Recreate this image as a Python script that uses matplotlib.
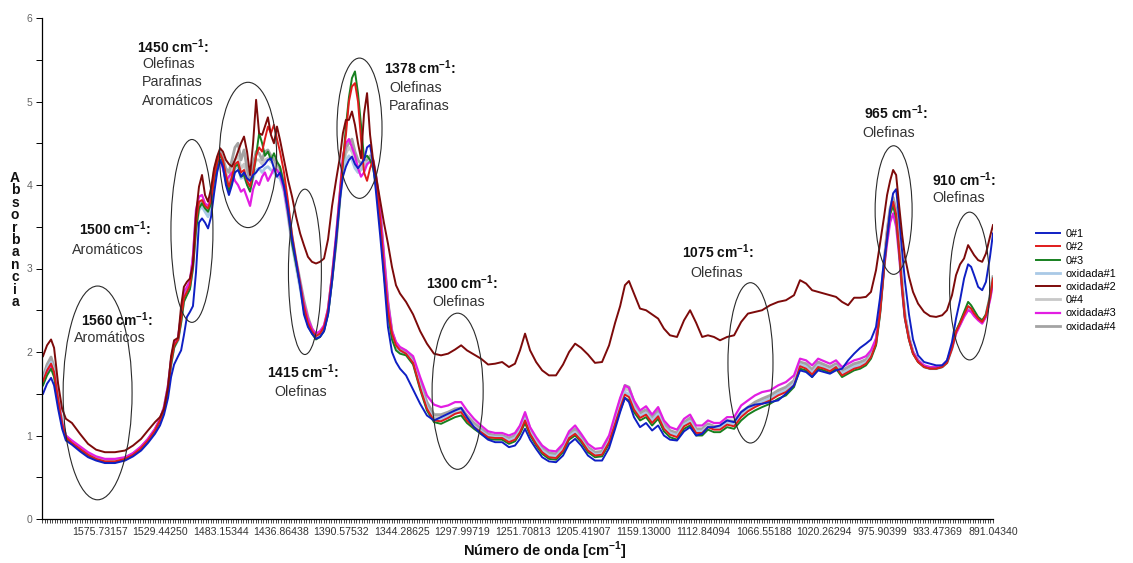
import matplotlib
matplotlib.use("Agg")
import matplotlib.pyplot as plt
from matplotlib.patches import Ellipse
from matplotlib.ticker import MultipleLocator, FixedLocator

plt.rcParams["font.family"] = ["Liberation Sans", "DejaVu Sans"]
plt.rcParams["mathtext.fontset"] = "custom"
plt.rcParams["mathtext.rm"] = "Liberation Sans"
plt.rcParams["mathtext.bf"] = "Liberation Sans:bold"

# spectrum point index (0 = high wavenumber end, ~1620 cm-1)
point_idx = [
    0.4, 2.0, 3.6, 4.8, 6.4, 8.0, 9.5, 11.9, 15.1, 18.3, 21.5, 25.0, 29.0, 33.0, 36.2, 39.4, 42.1, 44.9, 46.9, 48.5, 50.1, 51.3, 52.5, 54.1,
    55.3, 56.4, 57.6, 58.8, 60.0, 61.2, 62.4, 63.6, 64.8, 66.0, 67.2, 68.4, 69.6, 70.8, 71.9, 73.1, 74.3, 75.5, 76.7, 77.9, 79.1, 80.3, 81.5, 82.7, 83.9, 85.1, 86.3, 87.5, 88.6, 89.8, 91.0, 92.2, 93.4, 94.6, 96.2, 97.8, 99.4, 101.0, 102.6,
    104.1, 105.7, 107.3, 108.9, 110.5, 112.1, 113.7, 115.3, 116.9, 118.5, 119.6, 120.8, 122.0, 123.2, 124.4, 125.6, 126.8, 128.0, 129.2, 130.4, 131.6, 132.8, 134.4, 135.9, 137.5, 139.1, 140.7, 142.3,
    144.7, 147.5, 150.3, 153.0, 155.8, 158.6, 161.4, 164.2, 166.6, 168.9, 171.7, 174.5, 177.3, 180.1, 182.9, 185.6, 188.0, 190.0, 192.0, 194.0, 196.4, 198.8, 201.5, 204.3, 207.1, 209.5, 211.9, 214.3, 217.0, 219.8, 222.6, 225.4, 227.8, 229.8, 231.7, 233.3, 235.3, 237.7, 240.1, 242.5, 244.9, 247.2, 249.6, 252.4, 255.2, 257.6, 260.0, 262.4, 264.7, 267.1, 269.5, 272.3, 275.1, 277.9, 280.6, 283.4, 286.2,
    289.4, 292.6, 295.7, 298.9, 301.3, 303.7, 306.1, 308.5, 310.8, 313.2, 315.6, 318.0, 320.4, 322.8, 325.2, 327.5, 329.5, 331.5, 333.1, 334.7, 335.9, 337.1, 338.3, 339.5, 340.7, 341.9, 343.0, 344.6, 346.2, 348.2, 350.6, 353.0, 355.4, 357.8, 359.7, 361.7, 363.3, 364.9, 366.5, 368.1, 369.3, 370.5, 372.1, 373.7, 375.2, 376.8, 378.0,
]

s0_1 = [
    1.50, 1.62, 1.69, 1.60, 1.32, 1.08, 0.94, 0.89, 0.81, 0.74, 0.70, 0.67, 0.67, 0.70, 0.75, 0.82, 0.91, 1.02, 1.12, 1.25, 1.45, 1.70, 1.85, 1.95,
    2.02, 2.20, 2.42, 2.48, 2.55, 2.95, 3.55, 3.60, 3.55, 3.48, 3.62, 3.90, 4.15, 4.30, 4.22, 4.00, 3.88, 4.00, 4.15, 4.18, 4.10, 4.15, 4.08, 4.05, 4.12, 4.15, 4.20, 4.22, 4.25, 4.30, 4.32, 4.20, 4.10, 4.15, 3.98, 3.70, 3.35, 3.08, 2.78,
    2.45, 2.30, 2.22, 2.16, 2.18, 2.25, 2.45, 2.85, 3.35, 3.85, 4.10, 4.22, 4.30, 4.34, 4.25, 4.20, 4.25, 4.30, 4.45, 4.48, 4.25, 3.90, 3.40, 2.90, 2.30, 2.00, 1.88, 1.80,
    1.72, 1.55, 1.38, 1.24, 1.18, 1.22, 1.26, 1.30, 1.33, 1.22, 1.10, 1.02, 0.95, 0.92, 0.92, 0.86, 0.88, 0.96, 1.08, 0.95, 0.84, 0.74, 0.69, 0.68, 0.76, 0.90, 0.96, 0.88, 0.76, 0.70, 0.70, 0.85, 1.08, 1.28, 1.45, 1.40, 1.22, 1.10, 1.15, 1.06, 1.12, 1.00, 0.95, 0.94, 1.05, 1.10, 1.00, 1.02, 1.10, 1.10, 1.12, 1.18, 1.16, 1.28, 1.34, 1.37, 1.38,
    1.40, 1.42, 1.50, 1.60, 1.78, 1.76, 1.70, 1.78, 1.76, 1.74, 1.78, 1.80, 1.90, 1.98, 2.05, 2.10, 2.15, 2.30, 2.65, 3.10, 3.35, 3.70, 3.90, 3.95, 3.60, 3.20, 2.85, 2.45, 2.15, 1.96, 1.88, 1.86, 1.84, 1.84, 1.90, 2.12, 2.40, 2.62, 2.88, 3.05, 3.02, 2.92, 2.78, 2.74, 2.84, 3.14, 3.42,
]

s0_2 = [
    1.65, 1.78, 1.86, 1.76, 1.43, 1.14, 0.98, 0.91, 0.84, 0.77, 0.72, 0.69, 0.69, 0.72, 0.77, 0.85, 0.94, 1.06, 1.18, 1.32, 1.57, 1.88, 2.08, 2.15,
    2.40, 2.65, 2.72, 2.80, 3.05, 3.55, 3.80, 3.82, 3.75, 3.72, 3.82, 4.10, 4.28, 4.38, 4.30, 4.12, 3.98, 4.10, 4.25, 4.28, 4.15, 4.18, 4.05, 3.98, 4.15, 4.35, 4.45, 4.40, 4.55, 4.70, 4.62, 4.72, 4.55, 4.40, 4.15, 3.80, 3.40, 3.10, 2.82,
    2.55, 2.35, 2.25, 2.19, 2.22, 2.30, 2.50, 2.90, 3.35, 3.90, 4.30, 4.60, 5.00, 5.18, 5.22, 5.00, 4.55, 4.15, 4.05, 4.20, 4.30, 4.05, 3.60, 3.00, 2.50, 2.22, 2.08, 2.02,
    1.98, 1.87, 1.57, 1.32, 1.18, 1.17, 1.21, 1.26, 1.28, 1.18, 1.10, 1.04, 0.98, 0.97, 0.97, 0.92, 0.95, 1.04, 1.18, 1.02, 0.90, 0.80, 0.74, 0.73, 0.82, 0.97, 1.02, 0.94, 0.82, 0.76, 0.77, 0.92, 1.14, 1.33, 1.49, 1.46, 1.31, 1.21, 1.25, 1.15, 1.23, 1.08, 1.01, 0.98, 1.11, 1.15, 1.03, 1.03, 1.10, 1.07, 1.07, 1.13, 1.11, 1.22, 1.29, 1.34, 1.38,
    1.42, 1.48, 1.52, 1.60, 1.83, 1.80, 1.73, 1.82, 1.80, 1.77, 1.82, 1.72, 1.76, 1.80, 1.82, 1.86, 1.94, 2.10, 2.47, 3.02, 3.40, 3.68, 3.80, 3.65, 3.22, 2.77, 2.41, 2.15, 1.98, 1.88, 1.82, 1.80, 1.80, 1.82, 1.87, 2.04, 2.24, 2.34, 2.45, 2.55, 2.52, 2.46, 2.40, 2.36, 2.44, 2.65, 2.88,
]

s0_3 = [
    1.60, 1.72, 1.80, 1.70, 1.40, 1.12, 0.97, 0.90, 0.83, 0.76, 0.71, 0.68, 0.68, 0.71, 0.76, 0.84, 0.93, 1.05, 1.17, 1.30, 1.55, 1.85, 2.05, 2.15,
    2.35, 2.60, 2.68, 2.75, 3.00, 3.45, 3.72, 3.78, 3.72, 3.68, 3.78, 4.05, 4.25, 4.36, 4.28, 4.08, 3.92, 4.05, 4.22, 4.25, 4.10, 4.12, 4.00, 3.92, 4.10, 4.35, 4.62, 4.50, 4.35, 4.40, 4.30, 4.38, 4.28, 4.22, 4.00, 3.68, 3.30, 3.05, 2.80,
    2.50, 2.32, 2.22, 2.15, 2.18, 2.25, 2.45, 2.85, 3.30, 3.85, 4.25, 4.70, 5.05, 5.28, 5.36, 5.10, 4.72, 4.32, 4.35, 4.30, 4.20, 4.00, 3.55, 2.95, 2.45, 2.15, 2.02, 1.98,
    1.96, 1.85, 1.55, 1.30, 1.16, 1.14, 1.18, 1.22, 1.24, 1.15, 1.08, 1.02, 0.96, 0.95, 0.95, 0.90, 0.93, 1.02, 1.15, 1.00, 0.88, 0.78, 0.72, 0.71, 0.80, 0.95, 1.00, 0.92, 0.80, 0.74, 0.75, 0.90, 1.12, 1.30, 1.45, 1.42, 1.28, 1.18, 1.22, 1.12, 1.20, 1.05, 0.98, 0.95, 1.08, 1.12, 1.00, 1.00, 1.07, 1.04, 1.04, 1.10, 1.08, 1.18, 1.25, 1.30, 1.34,
    1.38, 1.44, 1.48, 1.58, 1.80, 1.78, 1.70, 1.80, 1.78, 1.75, 1.80, 1.70, 1.74, 1.78, 1.80, 1.84, 1.92, 2.08, 2.45, 3.00, 3.38, 3.65, 3.75, 3.60, 3.20, 2.75, 2.40, 2.15, 1.98, 1.88, 1.82, 1.80, 1.80, 1.82, 1.87, 2.05, 2.25, 2.36, 2.48, 2.60, 2.56, 2.50, 2.42, 2.38, 2.45, 2.66, 2.88,
]

ox_1 = [
    1.66, 1.80, 1.88, 1.77, 1.44, 1.14, 0.98, 0.91, 0.84, 0.77, 0.72, 0.69, 0.69, 0.72, 0.77, 0.85, 0.94, 1.06, 1.18, 1.31, 1.56, 1.86, 2.06, 2.14,
    2.38, 2.62, 2.70, 2.78, 3.02, 3.50, 3.70, 3.74, 3.68, 3.62, 3.72, 4.00, 4.20, 4.32, 4.25, 4.05, 3.95, 4.08, 4.20, 4.22, 4.08, 4.10, 4.02, 3.95, 4.08, 4.18, 4.20, 4.15, 4.20, 4.22, 4.18, 4.15, 4.10, 4.08, 3.92, 3.62, 3.28, 3.02, 2.76,
    2.52, 2.34, 2.24, 2.18, 2.20, 2.28, 2.48, 2.88, 3.30, 3.85, 4.15, 4.30, 4.35, 4.30, 4.20, 4.15, 4.18, 4.22, 4.25, 4.30, 4.25, 4.00, 3.60, 3.05, 2.50, 2.20, 2.06, 2.01,
    1.98, 1.88, 1.59, 1.34, 1.19, 1.19, 1.22, 1.27, 1.28, 1.19, 1.11, 1.05, 0.99, 0.98, 0.98, 0.94, 0.97, 1.06, 1.20, 1.04, 0.92, 0.82, 0.76, 0.75, 0.84, 0.99, 1.04, 0.95, 0.83, 0.77, 0.78, 0.93, 1.16, 1.36, 1.52, 1.49, 1.34, 1.23, 1.27, 1.18, 1.26, 1.10, 1.03, 1.00, 1.13, 1.17, 1.05, 1.05, 1.11, 1.09, 1.09, 1.15, 1.14, 1.24, 1.31, 1.36, 1.40,
    1.44, 1.50, 1.54, 1.62, 1.85, 1.82, 1.75, 1.84, 1.81, 1.78, 1.83, 1.74, 1.78, 1.82, 1.84, 1.87, 1.95, 2.10, 2.48, 3.02, 3.40, 3.66, 3.78, 3.64, 3.22, 2.78, 2.42, 2.16, 1.99, 1.89, 1.82, 1.80, 1.80, 1.82, 1.87, 2.04, 2.23, 2.33, 2.44, 2.54, 2.52, 2.46, 2.40, 2.36, 2.44, 2.65, 2.88,
]

ox_2 = [
    1.95, 2.08, 2.15, 2.05, 1.62, 1.32, 1.20, 1.15, 1.02, 0.90, 0.83, 0.80, 0.80, 0.82, 0.88, 0.96, 1.06, 1.16, 1.22, 1.32, 1.58, 1.95, 2.14, 2.17,
    2.55, 2.78, 2.84, 2.88, 3.05, 3.65, 3.98, 4.12, 3.88, 3.80, 3.96, 4.20, 4.34, 4.44, 4.40, 4.30, 4.25, 4.22, 4.30, 4.40, 4.50, 4.58, 4.40, 4.12, 4.50, 5.02, 4.62, 4.60, 4.70, 4.81, 4.60, 4.50, 4.70, 4.54, 4.30, 4.06, 3.86, 3.62, 3.42,
    3.28, 3.14, 3.08, 3.06, 3.08, 3.12, 3.35, 3.75, 4.06, 4.35, 4.62, 4.78, 4.78, 4.88, 4.72, 4.50, 4.32, 4.85, 5.10, 4.60, 4.30, 4.10, 3.82, 3.55, 3.30, 3.02, 2.80, 2.70,
    2.60, 2.45, 2.25, 2.10, 1.98, 1.96, 1.98, 2.03, 2.08, 2.02, 1.97, 1.92, 1.85, 1.86, 1.88, 1.82, 1.86, 2.02, 2.22, 2.02, 1.88, 1.78, 1.72, 1.72, 1.85, 2.00, 2.10, 2.05, 1.97, 1.87, 1.88, 2.08, 2.35, 2.55, 2.80, 2.85, 2.70, 2.52, 2.50, 2.45, 2.40, 2.28, 2.20, 2.18, 2.38, 2.50, 2.35, 2.18, 2.20, 2.18, 2.14, 2.18, 2.20, 2.36, 2.46, 2.48, 2.50,
    2.56, 2.60, 2.62, 2.68, 2.86, 2.82, 2.74, 2.72, 2.70, 2.68, 2.66, 2.60, 2.56, 2.65, 2.65, 2.66, 2.72, 2.98, 3.30, 3.62, 3.88, 4.05, 4.18, 4.12, 3.75, 3.40, 3.14, 2.90, 2.72, 2.58, 2.48, 2.43, 2.42, 2.44, 2.50, 2.68, 2.92, 3.05, 3.12, 3.28, 3.22, 3.16, 3.10, 3.08, 3.18, 3.38, 3.52,
]

s0_4 = [
    1.68, 1.83, 1.92, 1.80, 1.45, 1.15, 0.99, 0.92, 0.85, 0.78, 0.73, 0.70, 0.70, 0.73, 0.78, 0.86, 0.95, 1.07, 1.19, 1.33, 1.58, 1.88, 2.08, 2.15,
    2.40, 2.66, 2.73, 2.80, 3.08, 3.55, 3.75, 3.78, 3.70, 3.68, 3.78, 4.10, 4.28, 4.38, 4.30, 4.15, 4.05, 4.20, 4.30, 4.35, 4.20, 4.25, 4.10, 4.00, 4.18, 4.30, 4.30, 4.25, 4.30, 4.32, 4.28, 4.25, 4.20, 4.15, 3.98, 3.68, 3.32, 3.06, 2.80,
    2.58, 2.38, 2.26, 2.19, 2.21, 2.29, 2.49, 2.89, 3.32, 3.88, 4.20, 4.38, 4.45, 4.40, 4.30, 4.22, 4.20, 4.25, 4.28, 4.32, 4.28, 4.05, 3.65, 3.10, 2.55, 2.24, 2.08, 2.03,
    2.00, 1.90, 1.61, 1.37, 1.22, 1.22, 1.25, 1.30, 1.31, 1.22, 1.13, 1.07, 1.01, 0.99, 0.99, 0.96, 0.99, 1.08, 1.23, 1.06, 0.94, 0.84, 0.78, 0.77, 0.86, 1.01, 1.06, 0.97, 0.85, 0.79, 0.80, 0.95, 1.18, 1.39, 1.56, 1.54, 1.37, 1.25, 1.29, 1.20, 1.28, 1.12, 1.05, 1.02, 1.15, 1.19, 1.07, 1.07, 1.13, 1.10, 1.10, 1.17, 1.16, 1.26, 1.33, 1.38, 1.42,
    1.46, 1.52, 1.56, 1.64, 1.87, 1.84, 1.77, 1.86, 1.83, 1.80, 1.85, 1.76, 1.80, 1.84, 1.86, 1.89, 1.96, 2.12, 2.50, 3.05, 3.42, 3.70, 3.82, 3.67, 3.25, 2.80, 2.43, 2.17, 2.00, 1.90, 1.83, 1.81, 1.81, 1.83, 1.88, 2.05, 2.24, 2.34, 2.45, 2.53, 2.51, 2.46, 2.40, 2.36, 2.44, 2.66, 2.90,
]

ox_3 = [
    1.62, 1.76, 1.84, 1.74, 1.42, 1.15, 1.00, 0.94, 0.87, 0.80, 0.75, 0.72, 0.72, 0.74, 0.79, 0.87, 0.96, 1.08, 1.20, 1.34, 1.60, 1.90, 2.10, 2.17,
    2.45, 2.72, 2.78, 2.85, 3.15, 3.70, 3.86, 3.88, 3.78, 3.75, 3.85, 4.10, 4.22, 4.30, 4.20, 4.05, 4.10, 4.15, 4.05, 4.00, 3.92, 3.95, 3.85, 3.75, 3.95, 4.05, 4.00, 4.10, 4.15, 4.05, 4.12, 4.20, 4.18, 4.12, 3.95, 3.65, 3.32, 3.08, 2.82,
    2.58, 2.40, 2.28, 2.22, 2.25, 2.32, 2.52, 2.92, 3.40, 3.95, 4.35, 4.50, 4.55, 4.45, 4.35, 4.20, 4.10, 4.15, 4.25, 4.28, 4.30, 4.10, 3.70, 3.15, 2.60, 2.25, 2.12, 2.06,
    2.02, 1.95, 1.70, 1.48, 1.37, 1.34, 1.36, 1.40, 1.40, 1.30, 1.20, 1.12, 1.05, 1.03, 1.03, 1.00, 1.03, 1.12, 1.28, 1.10, 0.98, 0.88, 0.82, 0.81, 0.90, 1.05, 1.12, 1.02, 0.90, 0.84, 0.85, 1.00, 1.25, 1.45, 1.60, 1.57, 1.42, 1.30, 1.35, 1.25, 1.34, 1.18, 1.10, 1.07, 1.20, 1.25, 1.12, 1.12, 1.18, 1.15, 1.15, 1.22, 1.22, 1.36, 1.42, 1.48, 1.52,
    1.54, 1.60, 1.64, 1.72, 1.92, 1.90, 1.84, 1.92, 1.89, 1.86, 1.90, 1.82, 1.86, 1.90, 1.92, 1.95, 2.02, 2.16, 2.50, 3.00, 3.30, 3.55, 3.66, 3.50, 3.15, 2.72, 2.40, 2.16, 2.00, 1.90, 1.84, 1.82, 1.82, 1.84, 1.89, 2.05, 2.22, 2.32, 2.42, 2.50, 2.48, 2.43, 2.38, 2.34, 2.42, 2.62, 2.82,
]

ox_4 = [
    1.70, 1.85, 1.94, 1.82, 1.45, 1.15, 0.99, 0.92, 0.85, 0.78, 0.73, 0.70, 0.70, 0.73, 0.78, 0.86, 0.95, 1.07, 1.19, 1.33, 1.58, 1.88, 2.08, 2.15,
    2.42, 2.68, 2.75, 2.82, 3.10, 3.60, 3.78, 3.80, 3.72, 3.70, 3.80, 4.15, 4.30, 4.40, 4.32, 4.20, 4.15, 4.30, 4.45, 4.50, 4.30, 4.42, 4.20, 4.05, 4.25, 4.40, 4.38, 4.30, 4.40, 4.42, 4.35, 4.30, 4.25, 4.20, 4.02, 3.72, 3.38, 3.10, 2.85,
    2.62, 2.42, 2.28, 2.20, 2.22, 2.30, 2.50, 2.90, 3.35, 3.90, 4.25, 4.45, 4.50, 4.55, 4.40, 4.30, 4.25, 4.30, 4.30, 4.35, 4.30, 4.10, 3.70, 3.15, 2.60, 2.25, 2.10, 2.04,
    2.01, 1.92, 1.64, 1.40, 1.25, 1.25, 1.28, 1.32, 1.33, 1.24, 1.15, 1.08, 1.02, 1.00, 1.00, 0.97, 1.00, 1.10, 1.25, 1.08, 0.95, 0.85, 0.79, 0.78, 0.87, 1.02, 1.08, 0.98, 0.86, 0.80, 0.81, 0.96, 1.20, 1.42, 1.60, 1.58, 1.40, 1.27, 1.31, 1.22, 1.30, 1.14, 1.06, 1.03, 1.16, 1.21, 1.08, 1.08, 1.14, 1.11, 1.11, 1.18, 1.17, 1.28, 1.34, 1.40, 1.44,
    1.48, 1.54, 1.58, 1.66, 1.88, 1.86, 1.79, 1.88, 1.85, 1.82, 1.86, 1.78, 1.82, 1.86, 1.88, 1.91, 1.98, 2.14, 2.52, 3.08, 3.45, 3.72, 3.85, 3.70, 3.28, 2.82, 2.45, 2.18, 2.00, 1.90, 1.83, 1.81, 1.81, 1.83, 1.88, 2.05, 2.24, 2.34, 2.45, 2.52, 2.50, 2.45, 2.40, 2.36, 2.44, 2.66, 2.90,
]

# axis labels every 24 points (fewer near the low end of the range)
tick_idx = [23, 47, 71, 95, 119, 143, 167, 191, 215, 239, 263, 287, 311, 334, 356, 378]
tick_lbl = ["1575.73157", "1529.44250", "1483.15344", "1436.86438", "1390.57532",
            "1344.28625", "1297.99719", "1251.70813", "1205.41907", "1159.13000",
            "1112.84094", "1066.55188", "1020.26294", "975.90399", "933.47369", "891.04340"]

legend_order = ["0#1", "0#2", "0#3", "oxidada#1", "oxidada#2", "0#4", "oxidada#3", "oxidada#4"]

W, H = 1133, 563
fig = plt.figure(figsize=(W / 100, H / 100), dpi=100)
ax = fig.add_axes([42 / W, 44 / H, 951 / W, 501 / H])

# drawn back to front: light traces first, dark red on top
series = [
    ("0#4", s0_4, "#c8c8c8", 2.0),
    ("oxidada#4", ox_4, "#a3a3a3", 2.0),
    ("oxidada#1", ox_1, "#a9c9e6", 2.0),
    ("oxidada#3", ox_3, "#e21ee2", 1.6),
    ("0#3", s0_3, "#17801f", 1.4),
    ("0#2", s0_2, "#e01b1b", 1.4),
    ("0#1", s0_1, "#0f1fc4", 1.4),
    ("oxidada#2", ox_2, "#7d0a0a", 1.4),
]
handles = {}
for name, vals, col, lw in series:
    ln, = ax.plot(point_idx, vals, color=col, lw=lw, solid_joinstyle="round")
    handles[name] = ln

ax.set_xlim(0, 378)
ax.set_ylim(0, 6)
for side in ("top", "right"):
    ax.spines[side].set_visible(False)
for side in ("left", "bottom"):
    ax.spines[side].set_linewidth(0.9)
    ax.spines[side].set_color("black")

ax.yaxis.set_major_locator(MultipleLocator(1))
ax.yaxis.set_minor_locator(MultipleLocator(0.5))
ax.tick_params(axis="y", which="both", direction="out", length=4, width=0.7,
               labelsize=7.5, labelcolor="#666666", pad=3)
ax.xaxis.set_major_locator(FixedLocator(tick_idx))
ax.xaxis.set_minor_locator(FixedLocator(list(range(0, 379))))
ax.set_xticklabels(tick_lbl)
ax.tick_params(axis="x", which="both", direction="out", length=3, width=0.5,
               labelsize=7.6, labelcolor="#333333", pad=3)

# stacked y-axis title
fig.text(15 / W, 1 - 240 / H, "\n".join("Absorbancia"), ha="center", va="center",
         fontsize=10, fontweight="bold", linespacing=0.86, color="#111111")
fig.text(545 / W, 1 - 551 / H, r"Número de onda [cm$^{\mathbf{-1}}$]",
         ha="center", va="center", fontsize=10.5, fontweight="bold", color="#111111")

# band annotations: (header x, header y, body x, body y, wavenumber, body lines) in pixels
notes = [
    (137, 47, 142, 64, "1450", ["Olefinas", "Parafinas", "Aromáticos"]),
    (384, 68, 389, 88, "1378", ["Olefinas", "Parafinas"]),
    (79, 229, 72, 250, "1500", ["Aromáticos"]),
    (81, 320, 74, 338, "1560", ["Aromáticos"]),
    (267, 372, 274, 392, "1415", ["Olefinas"]),
    (426, 283, 432, 302, "1300", ["Olefinas"]),
    (682, 252, 690, 273, "1075", ["Olefinas"]),
    (864, 113, 862, 133, "965", ["Olefinas"]),
    (932, 180, 932, 198, "910", ["Olefinas"]),
]
for hx, hy, bx, by, wn, body in notes:
    fig.text(hx / W, 1 - hy / H, wn + r" cm$^{\mathbf{-1}}$:", ha="left", va="center",
             fontsize=10, fontweight="bold", color="#111111")
    for k, line in enumerate(body):
        fig.text(bx / W, 1 - (by + 18.5 * k) / H, line, ha="left", va="center",
                 fontsize=10.3, color="#333333")

# ellipses around the bands (centre idx, centre abs, width idx, height abs)
rings = [
    (22.1, 1.51, 27.4, 2.56),
    (59.6, 3.45, 16.7, 2.19),
    (81.9, 4.36, 22.7, 1.74),
    (104.5, 2.96, 13.1, 1.98),
    (126.2, 4.68, 17.9, 1.68),
    (165.2, 1.53, 20.3, 1.87),
    (281.6, 1.87, 17.9, 1.92),
    (338.5, 3.70, 14.7, 1.54),
    (368.7, 2.79, 15.9, 1.77),
]
for cx, cy, w, h in rings:
    ax.add_patch(Ellipse((cx, cy), w, h, fill=False, edgecolor="#2a2a2a", lw=0.8, zorder=5))

fig.legend([handles[n] for n in legend_order], legend_order,
           loc="upper left", bbox_to_anchor=(1036 / W, 1 - 229 / H),
           frameon=False, fontsize=7.8, labelspacing=0.3, handlelength=2.2,
           handletextpad=0.5, borderaxespad=0, borderpad=0)

fig.savefig("out.png", dpi=100, facecolor="white")
